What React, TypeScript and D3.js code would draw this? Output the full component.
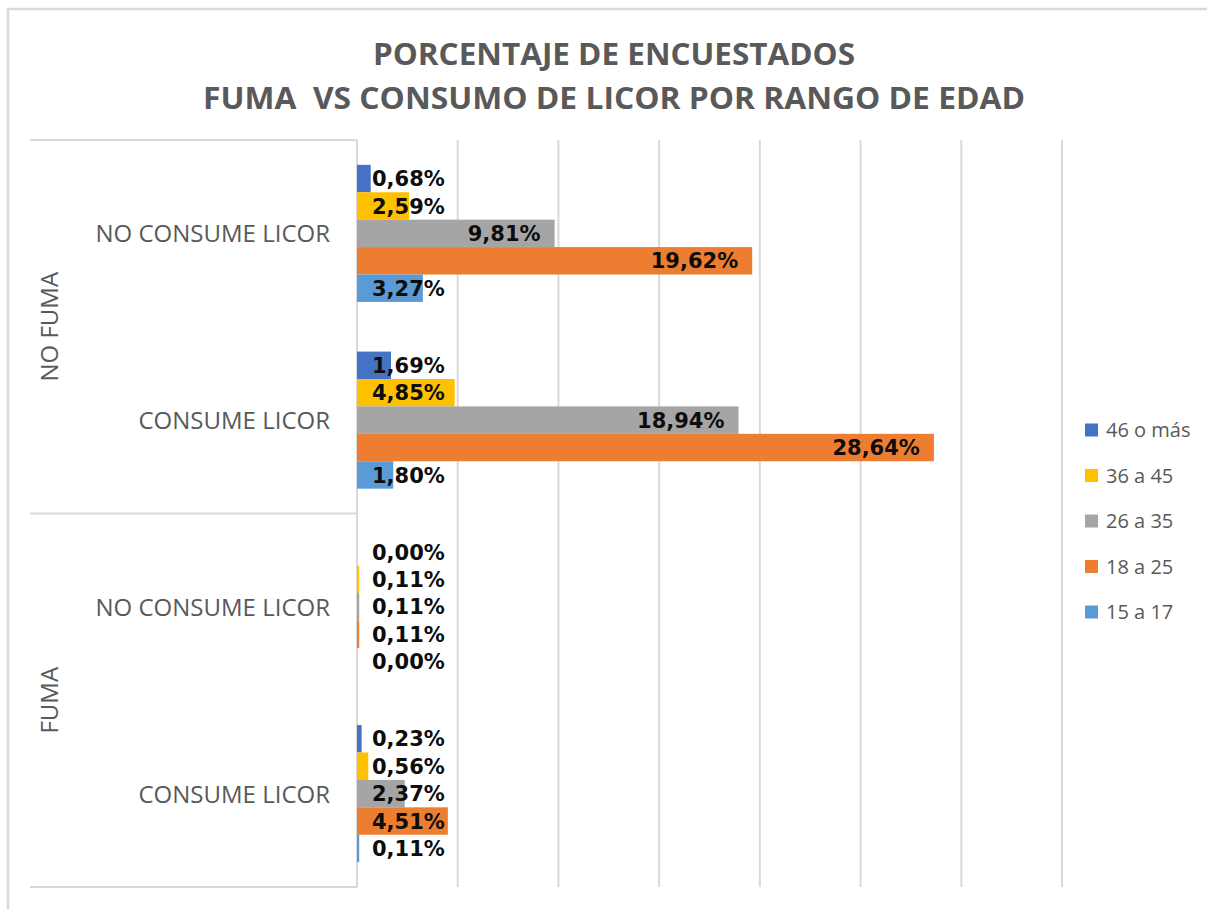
import * as d3 from "d3";
import { useEffect, useRef } from "react";

const titleLines = ["PORCENTAJE DE ENCUESTADOS", "FUMA  VS CONSUMO DE LICOR POR RANGO DE EDAD"];
const groups = ["NO FUMA", "FUMA"];
const categories = ["NO CONSUME LICOR", "CONSUME LICOR", "NO CONSUME LICOR", "CONSUME LICOR"];
const seriesNames = ["46 o más", "36 a 45", "26 a 35", "18 a 25", "15 a 17"];
const seriesColors = ["#4472C4", "#FFC000", "#A5A5A5", "#ED7D31", "#5B9BD5"];

// one array per series, in category order
const v46 = [0.68, 1.69, 0.0, 0.23];
const v36 = [2.59, 4.85, 0.11, 0.56];
const v26 = [9.81, 18.94, 0.11, 2.37];
const v18 = [19.62, 28.64, 0.11, 4.51];
const v15 = [3.27, 1.8, 0.0, 0.11];
const seriesValues = [v46, v36, v26, v18, v15];

const xTicks = [0, 5, 10, 15, 20, 25, 30, 35];

const W = 1207;
const H = 909;

export default function App() {
  const ref = useRef<SVGSVGElement>(null);

  useEffect(() => {
    const svg = d3.select(ref.current);
    svg.selectAll("*").remove();

    const left = 357;
    const right = 1062;
    const top = 140;
    const bottom = 887;
    const grey = "#595959";
    const lineCol = "#d9d9d9";

    // chart frame (only top and left edge visible)
    svg
      .append("path")
      .attr("d", `M8,${H + 5}V9H${W + 5}`)
      .attr("fill", "none")
      .attr("stroke", lineCol)
      .attr("stroke-width", 2.5);

    const x = d3.scaleLinear().domain([0, 35]).range([left, right]);
    const keys = categories.map((_, i) => String(i));
    const y = d3
      .scaleBand()
      .domain(keys)
      .range([top, bottom])
      .paddingInner(0.266)
      .paddingOuter(0.133);
    const ySub = d3
      .scaleBand()
      .domain(seriesNames)
      .range([0, y.bandwidth()]);

    // title
    const title = svg
      .append("g")
      .attr("font-family", "'Open Sans', sans-serif")
      .attr("font-weight", "bold")
      .attr("font-size", 30)
      .attr("fill", grey)
      .attr("text-anchor", "middle");
    title
      .selectAll("text")
      .data(titleLines)
      .join("text")
      .attr("x", 614)
      .attr("y", (d, i) => 65 + i * 44)
      .style("white-space", "pre")
      .attr("textLength", (d, i) => (i === 0 ? 482 : 822))
      .attr("lengthAdjust", "spacingAndGlyphs")
      .text((d) => d);

    // gridlines
    svg
      .append("g")
      .selectAll("line")
      .data(xTicks)
      .join("line")
      .attr("x1", (d) => x(d))
      .attr("x2", (d) => x(d))
      .attr("y1", top)
      .attr("y2", bottom)
      .attr("stroke", lineCol)
      .attr("stroke-width", 2);

    // category axis lines
    const step = y.step();
    const sepYs = [top, top + 2 * step, bottom];
    svg
      .append("g")
      .selectAll("line")
      .data(sepYs)
      .join("line")
      .attr("x1", 30)
      .attr("x2", left)
      .attr("y1", (d) => d)
      .attr("y2", (d) => d)
      .attr("stroke", lineCol)
      .attr("stroke-width", 2);

    // inner category labels
    svg
      .append("g")
      .attr("font-family", "'Open Sans', sans-serif")
      .attr("font-size", 24)
      .attr("fill", grey)
      .attr("text-anchor", "end")
      .selectAll("text")
      .data(categories)
      .join("text")
      .attr("x", 330)
      .attr("y", (d, i) => (y(String(i)) as number) + y.bandwidth() / 2 + 9)
      .text((d) => d);

    // outer group labels
    svg
      .append("g")
      .attr("font-family", "'Open Sans', sans-serif")
      .attr("font-size", 24)
      .attr("fill", grey)
      .attr("text-anchor", "middle")
      .selectAll("text")
      .data(groups)
      .join("text")
      .attr("transform", (d, i) => `translate(58,${top + step * (2 * i + 1)}) rotate(-90)`)
      .text((d) => d);

    // bars
    const fmt = d3.format(".2f");
    const bars = svg.append("g");
    const labels = svg
      .append("g")
      .attr("font-family", "'DejaVu Sans', sans-serif")
      .attr("font-weight", "bold")
      .attr("font-size", 21)
      .attr("fill", "#0d0d0d");

    seriesNames.forEach((s, si) => {
      const vals = seriesValues[si];
      bars
        .append("g")
        .selectAll("rect")
        .data(vals)
        .join("rect")
        .attr("x", left)
        .attr("y", (d, i) => (y(String(i)) as number) + (ySub(s) as number))
        .attr("width", (d) => x(d) - left)
        .attr("height", ySub.bandwidth())
        .attr("fill", seriesColors[si]);

      labels
        .append("g")
        .selectAll("text")
        .data(vals)
        .join("text")
        .each(function (d, i) {
          const t = d3.select(this);
          const label = fmt(d).replace(".", ",") + "%";
          t.text(label);
          const w = (this as SVGTextElement).getComputedTextLength();
          const endX = x(d) - 14;
          const cy = (y(String(i)) as number) + (ySub(s) as number) + ySub.bandwidth() / 2;
          t.attr("y", cy).attr("dy", "0.36em");
          if (endX - w < left + 15) {
            t.attr("x", left + 15).attr("text-anchor", "start");
          } else {
            t.attr("x", endX).attr("text-anchor", "end");
          }
        });
    });

    // legend
    const legend = svg
      .append("g")
      .attr("font-family", "'Open Sans', sans-serif")
      .attr("font-size", 20)
      .attr("fill", grey);
    const items = legend
      .selectAll("g")
      .data(seriesNames)
      .join("g")
      .attr("transform", (d, i) => `translate(1085,${430 + i * 45.5})`);
    items
      .append("rect")
      .attr("x", 0)
      .attr("y", -6.5)
      .attr("width", 13)
      .attr("height", 13)
      .attr("fill", (d, i) => seriesColors[i]);
    items
      .append("text")
      .attr("x", 21)
      .attr("dy", "0.35em")
      .text((d) => d);
  }, []);

  return (
    <svg
      ref={ref}
      width={W}
      height={H}
      style={{ position: "absolute", left: 0, top: 0, background: "#fff" }}
    />
  );
}
